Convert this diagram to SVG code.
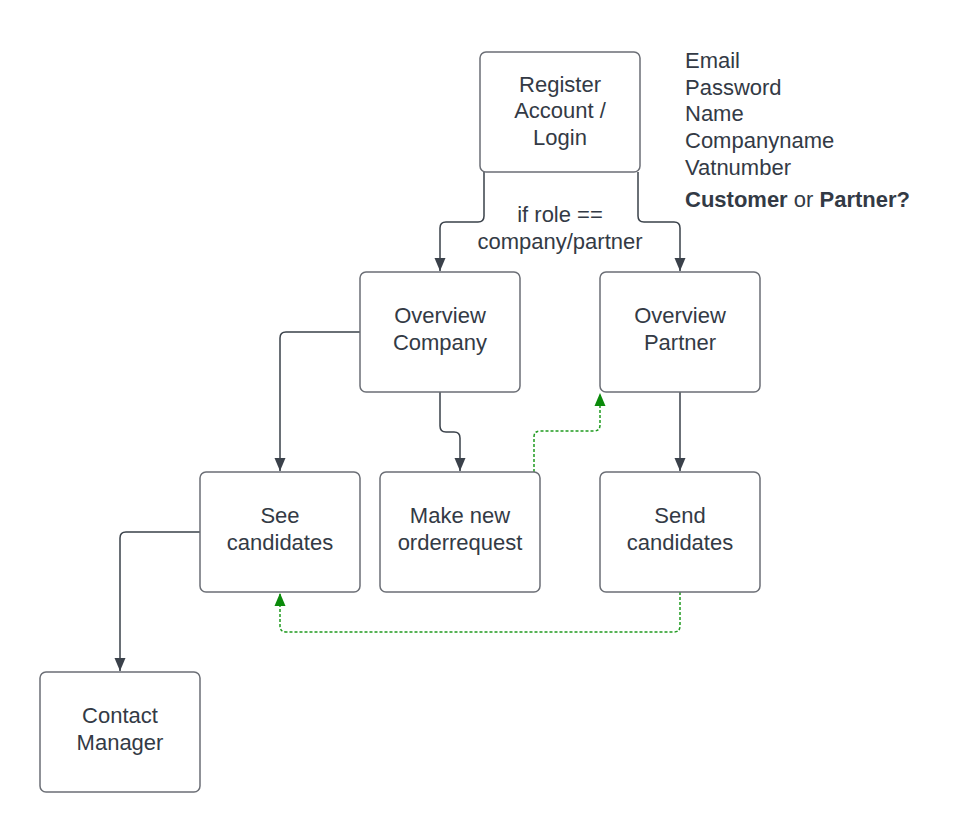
<svg xmlns="http://www.w3.org/2000/svg" width="960" height="832" viewBox="0 0 960 832">
<style>
.box{fill:#fff;stroke:#6b6e75;stroke-width:1.5}
.t{font-family:"Liberation Sans",Arial,sans-serif;font-size:22px;fill:#333a45;text-anchor:middle}
.tl{font-family:"Liberation Sans",Arial,sans-serif;font-size:22px;fill:#333a45}
.c{fill:none;stroke:#3a414a;stroke-width:1.5}
.g{fill:none;stroke:#1f9a1f;stroke-width:1.5;stroke-dasharray:3 2}
</style>
<defs>
<marker id="ah" markerWidth="14" markerHeight="12" refX="13" refY="6" orient="auto" markerUnits="userSpaceOnUse"><path d="M0,0.5 L13,6 L0,11.5 Z" fill="#3a414a"/></marker>
<marker id="gh" markerWidth="14" markerHeight="12" refX="13" refY="6" orient="auto" markerUnits="userSpaceOnUse"><path d="M0,0.5 L13,6 L0,11.5 Z" fill="#0a8a0a"/></marker>
</defs>
<rect width="960" height="832" fill="#fff"/>
<g id="connectors">
<path class="c" d="M484,172 V216 Q484,222 478,222 H446 Q440,222 440,228 V271" marker-end="url(#ah)"/>
<path class="c" d="M638,172 V216 Q638,222 644,222 H674 Q680,222 680,228 V271" marker-end="url(#ah)"/>
<path class="c" d="M360,332 H286 Q280,332 280,338 V471" marker-end="url(#ah)"/>
<path class="c" d="M440,392 V426 Q440,432 446,432 H454 Q460,432 460,438 V471" marker-end="url(#ah)"/>
<path class="c" d="M680,392 V471" marker-end="url(#ah)"/>
<path class="c" d="M200,532 H126 Q120,532 120,538 V671" marker-end="url(#ah)"/>
<path class="g" d="M534,472 V437 Q534,431 540,431 H594 Q600,431 600,425 V393" marker-end="url(#gh)"/>
<path class="g" d="M680,592 V626 Q680,632 674,632 H286 Q280,632 280,626 V593" marker-end="url(#gh)"/>
</g>
<g id="register"><rect class="box" x="480" y="52" width="160" height="120" rx="6"/>
<text class="t" x="560" y="92">Register</text><text class="t" x="560" y="118">Account /</text><text class="t" x="560" y="145">Login</text></g>
<g id="cond"><text class="t" x="560" y="222">if role ==</text><text class="t" x="560" y="249">company/partner</text></g>
<g id="fields">
<text class="tl" x="685" y="68">Email</text>
<text class="tl" x="685" y="95">Password</text>
<text class="tl" x="685" y="121">Name</text>
<text class="tl" x="685" y="148">Companyname</text>
<text class="tl" x="685" y="175">Vatnumber</text>
<text class="tl" x="685" y="207"><tspan font-weight="bold">Customer</tspan> or <tspan font-weight="bold">Partner?</tspan></text>
</g>
<g id="ovcompany"><rect class="box" x="360" y="272" width="160" height="120" rx="6"/>
<text class="t" x="440" y="323">Overview</text><text class="t" x="440" y="350">Company</text></g>
<g id="ovpartner"><rect class="box" x="600" y="272" width="160" height="120" rx="6"/>
<text class="t" x="680" y="323">Overview</text><text class="t" x="680" y="350">Partner</text></g>
<g id="seecand"><rect class="box" x="200" y="472" width="160" height="120" rx="6"/>
<text class="t" x="280" y="523">See</text><text class="t" x="280" y="550">candidates</text></g>
<g id="makeorder"><rect class="box" x="380" y="472" width="160" height="120" rx="6"/>
<text class="t" x="460" y="523">Make new</text><text class="t" x="460" y="550">orderrequest</text></g>
<g id="sendcand"><rect class="box" x="600" y="472" width="160" height="120" rx="6"/>
<text class="t" x="680" y="523">Send</text><text class="t" x="680" y="550">candidates</text></g>
<g id="contact"><rect class="box" x="40" y="672" width="160" height="120" rx="6"/>
<text class="t" x="120" y="723">Contact</text><text class="t" x="120" y="750">Manager</text></g>
</svg>
